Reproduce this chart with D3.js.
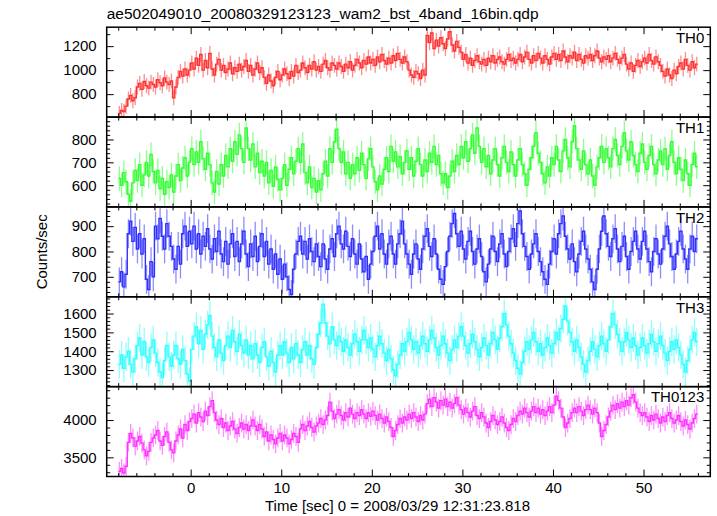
<!DOCTYPE html>
<html><head><meta charset="utf-8">
<script src="https://cdn.jsdelivr.net/npm/d3@7/dist/d3.min.js"></script>
<style>
body{margin:0;background:#fff}
svg text{font-family:"Liberation Sans",Arial,Helvetica,sans-serif;fill:#000}
</style></head><body>
<svg id="chart" width="717" height="516"></svg>
<script>
// ---- data (bins of 0.25 s starting at t = -8 s) ----
const binStart = -8, binWidth = 0.25;
const th0 = [
640,665,655,700,760,790,745,770, 860,890,840,905,870,850,900,880,
860,920,895,870,935,900,880,910, 770,860,940,990,950,1010,960,1000,
1060,1010,1100,1040,1130,1000,1080,1020, 1140,1010,960,1050,1090,1000,1040,980,
1010,1060,970,1020,990,1050,1000,1030, 1080,990,1040,960,1010,1060,980,1020,
940,890,960,910,870,940,990,920, 960,1010,970,930,990,950,1040,980,
1000,1060,1020,980,1040,1010,1070,1000, 1030,990,1050,1080,1020,1000,1060,1040,
1010,1060,1030,990,1050,1020,1070,1000, 1040,1090,1060,1020,1080,1050,1110,1060,
1090,1040,1110,1070,1130,1080,1050,1100, 1060,1120,1080,1140,1090,1060,1110,1070,
1000,960,940,990,970,930,1000,960, 1290,1230,1310,1180,1250,1200,1270,1220,
1180,1260,1320,1210,1160,1240,1190,1150, 1090,1130,1060,1100,1040,1080,1120,1070,
1050,1090,1040,1100,1070,1120,1060,1090, 1110,1070,1050,1090,1130,1080,1100,1060,
1090,1130,1070,1110,1150,1090,1060,1120, 1080,1140,1100,1060,1120,1090,1050,1110,
1140,1090,1130,1080,1160,1110,1070,1120, 1100,1150,1080,1130,1090,1060,1120,1100,
1130,1080,1120,1160,1100,1070,1110,1090, 1120,1070,1100,1140,1090,1060,1100,1130,
1050,1010,1060,990,1040,1080,1030,1070, 1100,1060,1130,1080,1050,1110,1070,1040,
990,950,1010,960,930,1000,970,1030, 1060,1010,1090,1040,1000,1070,1020,1050];
const th1 = [
630,600,655,615,560,530,610,665, 620,690,600,645,700,640,735,660,
610,665,585,630,560,615,590,645, 570,640,690,620,675,720,640,700,
760,690,745,700,790,715,670,740, 690,610,570,660,605,690,640,730,
680,760,705,790,735,820,760,700, 850,760,710,780,680,740,655,705,
640,700,610,665,595,680,625,580, 630,690,600,670,720,650,705,760,
700,780,655,610,680,590,630,570, 620,580,650,705,640,760,700,790,
845,760,700,745,650,700,630,690, 650,720,665,740,690,630,715,760,
680,615,580,640,605,670,720,660, 770,705,745,680,725,650,700,750,
670,720,640,705,760,690,640,710, 660,740,700,770,690,730,650,610,
650,590,640,705,660,730,690,770, 720,790,705,760,820,740,850,770,
700,760,680,730,650,710,760,690, 640,720,770,700,660,745,690,640,
710,760,690,650,600,670,720,770, 830,740,700,650,610,680,640,720,
690,770,710,660,750,800,720,680, 790,860,760,710,670,750,690,650,
710,640,600,680,720,770,700,760, 720,680,760,800,730,690,770,830,
750,710,790,730,690,660,740,780, 700,670,730,770,690,650,710,750,
690,760,670,730,790,700,650,720, 670,620,710,650,600,690,740,680];
const th2 = [
680,720,660,710,870,920,840,895, 810,870,790,850,690,650,760,700,
900,850,930,860,810,910,860,820, 770,730,820,750,870,900,820,880,
830,900,810,870,790,860,820,890, 810,770,850,800,880,790,760,840,
750,830,870,780,840,760,830,880, 790,740,830,780,860,760,820,870,
780,840,750,810,730,790,710,770, 690,750,700,650,630,730,790,840,
860,790,840,770,850,800,760,830, 780,740,830,770,730,810,850,780,
870,900,830,810,880,820,780,850, 790,750,830,770,720,780,690,750,
800,860,900,810,870,790,750,830, 860,790,750,830,870,920,830,790,
750,710,790,830,770,730,810,860, 890,820,780,850,790,730,690,670,
740,800,860,910,950,870,820,880, 810,770,840,880,800,750,810,850,
780,720,680,750,810,860,800,760, 830,870,790,740,800,850,890,820,
910,960,870,820,780,730,790,830, 870,800,760,720,690,670,750,800,
850,790,870,910,940,860,810,770, 830,760,720,790,840,880,810,770,
730,680,650,730,810,880,940,870, 820,780,850,890,810,760,820,860,
780,730,800,840,880,810,770,840, 880,810,760,720,800,850,790,750,
810,860,900,830,780,730,790,840, 880,810,770,730,810,860,800,850];
const th3 = [
1330,1380,1310,1370,1400,1330,1290,1360, 1430,1470,1380,1450,1370,1340,1420,1460,
1390,1340,1290,1260,1350,1430,1370,1320, 1380,1430,1360,1330,1410,1350,1280,1240,
1410,1480,1530,1440,1510,1410,1490,1540, 1590,1480,1420,1370,1460,1390,1350,1430,
1480,1420,1510,1450,1400,1490,1430,1390, 1460,1380,1430,1360,1440,1380,1340,1420,
1450,1370,1320,1400,1340,1290,1380,1430, 1380,1450,1390,1340,1420,1360,1440,1380,
1340,1410,1450,1380,1430,1360,1330,1420, 1490,1550,1650,1550,1480,1440,1530,1460,
1430,1480,1450,1400,1460,1420,1380,1440, 1490,1450,1400,1460,1510,1460,1420,1470,
1410,1370,1430,1480,1440,1390,1350,1410, 1360,1300,1270,1330,1380,1440,1400,1450,
1500,1460,1410,1450,1390,1430,1480,1440, 1400,1460,1510,1470,1420,1380,1430,1480,
1440,1390,1350,1410,1460,1420,1480,1530, 1480,1430,1390,1440,1490,1450,1410,1370,
1420,1470,1430,1380,1440,1500,1460,1410, 1470,1530,1600,1540,1480,1440,1390,1350,
1310,1280,1340,1400,1450,1410,1460,1500, 1450,1400,1440,1380,1420,1470,1430,1390,
1440,1500,1460,1520,1570,1640,1560,1500, 1450,1400,1460,1420,1370,1330,1290,1350,
1400,1450,1410,1370,1430,1480,1440,1400, 1460,1530,1600,1540,1490,1450,1400,1450,
1500,1460,1420,1470,1430,1380,1420,1470, 1430,1390,1440,1490,1450,1400,1440,1480,
1430,1390,1350,1400,1450,1410,1460,1420, 1380,1330,1290,1350,1410,1460,1500,1450];
const th0123 = [
3310,3350,3290,3380,3700,3820,3760,3650, 3720,3780,3690,3600,3520,3580,3700,3760,
3800,3860,3720,3660,3780,3840,3700,3600, 3560,3720,3800,3880,3760,3940,3860,3980,
4020,4080,3960,4100,4040,3980,4120,4060, 4180,4260,4100,4000,3940,4020,3900,3960,
3860,3920,3980,3880,3820,3900,3960,3880, 3940,3860,3920,4000,3920,3860,3940,3880,
3780,3840,3720,3800,3740,3680,3760,3820, 3720,3800,3760,3680,3740,3820,3780,3700,
3880,3940,3860,3920,3980,3900,3840,3920, 3960,4020,3940,4000,4060,4240,4120,4020,
4080,4140,4060,4000,4100,4040,4160,4080, 4020,4100,4060,4140,4080,4020,4100,4050,
4120,4060,4000,4080,4020,3960,4040,3980, 3900,3780,3860,3940,4020,3960,4040,4000,
4080,4020,4100,4040,3980,4060,4000,4080, 4220,4280,4180,4300,4240,4160,4260,4200,
4280,4180,4240,4160,4220,4300,4200,4140, 4080,4160,4100,4040,4120,4180,4060,4020,
4100,4040,3960,3900,3980,4060,4000,3940, 3980,4040,3960,3900,3860,3940,4020,3980,
4060,4120,4080,4160,4100,4040,4120,4180, 4100,4160,4080,4140,4060,4120,4180,4100,
4200,4320,4260,4160,4040,3900,3960,4020, 4100,4160,4100,4180,4120,4060,4140,4200,
4140,4080,4160,4100,3960,3780,3860,3940, 4040,4120,4200,4140,4220,4160,4240,4180,
4260,4200,4300,4340,4240,4160,4100,4060, 4100,4040,3980,4060,4000,4080,4020,3960,
4040,3980,4060,4100,4020,3960,4000,4060, 3980,3920,4000,3940,3880,3960,4020,4080];

const panelNames = ["TH0","TH1","TH2","TH3","TH0123"];
const panelSeries = [th0, th1, th2, th3, th0123];
const errHalf = [62, 53, 57, 75, 126];
const yDomains = [[609,1358],[505,898],[621,976],[1212,1689],[3243,4448]];
const yMajorTicks = [[800,1000,1200],[600,700,800],[700,800,900],[1300,1400,1500,1600],[3500,4000]];
const yMinorStep = [100, 20, 20, 20, 100];
const xDomain = [-9.27, 57.37];
const xMajorTicks = [0,10,20,30,40,50];
const xMinorTicks = d3.range(-8, 57, 2);
const titleText = "ae502049010_20080329123123_wam2_bst_4band_16bin.qdp";
const xTitle = "Time [sec] 0 = 2008/03/29 12:31:23.818";
const yTitle = "Counts/sec";

// ---- styles / layout ----
const colors = ["#ff3030","#30ff30","#3030ff","#30ffff","#ff30ff"];
const left = 106.7, right = 710.3, top0 = 27.2, panelH = 89.86;
const fontFam = "'Liberation Sans',Arial,sans-serif";

const svg = d3.select("#chart");
const x = d3.scaleLinear().domain(xDomain).range([left, right]);

svg.append("text").attr("x", left).attr("y", 19).attr("font-size", 15.5).text(titleText);

panelSeries.forEach((vals, p) => {
  const y0 = top0 + p*panelH, y1 = y0 + panelH;
  const y = d3.scaleLinear().domain(yDomains[p]).range([y1, y0]);
  const g = svg.append("g");
  const clipId = "clip" + p;
  svg.append("clipPath").attr("id", clipId).append("rect")
    .attr("x", left).attr("y", y0).attr("width", right-left).attr("height", panelH);
  const pts = vals.map((v, i) => ({t: binStart + binWidth*(i+0.5), v}));
  const dg = g.append("g").attr("clip-path", `url(#${clipId})`);
  // error bars
  dg.selectAll("line.err").data(pts).join("line").attr("class","err")
    .attr("x1", d => x(d.t)).attr("x2", d => x(d.t))
    .attr("y1", d => y(d.v - errHalf[p])).attr("y2", d => y(d.v + errHalf[p]))
    .attr("stroke", colors[p]).attr("stroke-opacity", 0.55).attr("stroke-width", 1.3);
  // step line
  const stepPts = pts.map(d => [d.t - binWidth/2, d.v]);
  stepPts.push([pts[pts.length-1].t + binWidth/2, pts[pts.length-1].v]);
  dg.append("path").datum(stepPts)
    .attr("d", d3.line().x(d => x(d[0])).y(d => y(d[1])).curve(d3.curveStepAfter))
    .attr("fill", "none").attr("stroke", colors[p]).attr("stroke-width", 1.4);

  // ticks
  const [lo, hi] = yDomains[p];
  const minor = d3.range(Math.ceil(lo/yMinorStep[p])*yMinorStep[p], hi, yMinorStep[p])
    .filter(v => !yMajorTicks[p].includes(v));
  const axG = g.append("g").attr("class","ax");
  const addAxis = (axis, tr) => {
    const a = axG.append("g").attr("transform", tr).call(axis);
    a.select(".domain").remove();
    a.selectAll(".tick line").attr("stroke", "#000").attr("stroke-width", 1);
    a.selectAll("text").attr("font-size", 15).attr("font-family", fontFam).attr("fill","#000");
    return a;
  };
  addAxis(d3.axisLeft(y).tickValues(minor).tickSize(-3.5).tickFormat(""), `translate(${left},0)`);
  addAxis(d3.axisRight(y).tickValues(minor).tickSize(-3.5).tickFormat(""), `translate(${right},0)`);
  addAxis(d3.axisLeft(y).tickValues(yMajorTicks[p]).tickSize(-7).tickPadding(10).tickFormat(d3.format("d")), `translate(${left},0)`);
  addAxis(d3.axisRight(y).tickValues(yMajorTicks[p]).tickSize(-7).tickFormat(""), `translate(${right},0)`);
  const xm = xMinorTicks.filter(v => !xMajorTicks.includes(v));
  addAxis(d3.axisBottom(x).tickValues(xm).tickSize(-3.5).tickFormat(""), `translate(0,${y1})`);
  addAxis(d3.axisTop(x).tickValues(xm).tickSize(-3.5).tickFormat(""), `translate(0,${y0})`);
  addAxis(d3.axisTop(x).tickValues(xMajorTicks).tickSize(-7).tickFormat(""), `translate(0,${y0})`);
  const last = p === panelSeries.length-1;
  addAxis(d3.axisBottom(x).tickValues(xMajorTicks).tickSize(-7).tickPadding(6)
      .tickFormat(last ? d3.format("d") : ""), `translate(0,${y1})`);

  // frame
  g.append("rect").attr("x", left).attr("y", y0).attr("width", right-left).attr("height", panelH)
    .attr("fill", "none").attr("stroke", "#000").attr("stroke-width", 1.5);
  // label
  g.append("text").attr("x", right-6).attr("y", y0+15.8).attr("text-anchor","end")
    .attr("font-size", 15).text(panelNames[p]);
});

svg.append("text").attr("x", 397.5).attr("y", 511).attr("text-anchor","middle")
  .attr("font-size", 15).text(xTitle);
svg.append("text").attr("transform", `translate(47,${top0 + 2.5*panelH}) rotate(-90)`)
  .attr("text-anchor","middle").attr("font-size", 15).text(yTitle);
</script>
</body></html>
